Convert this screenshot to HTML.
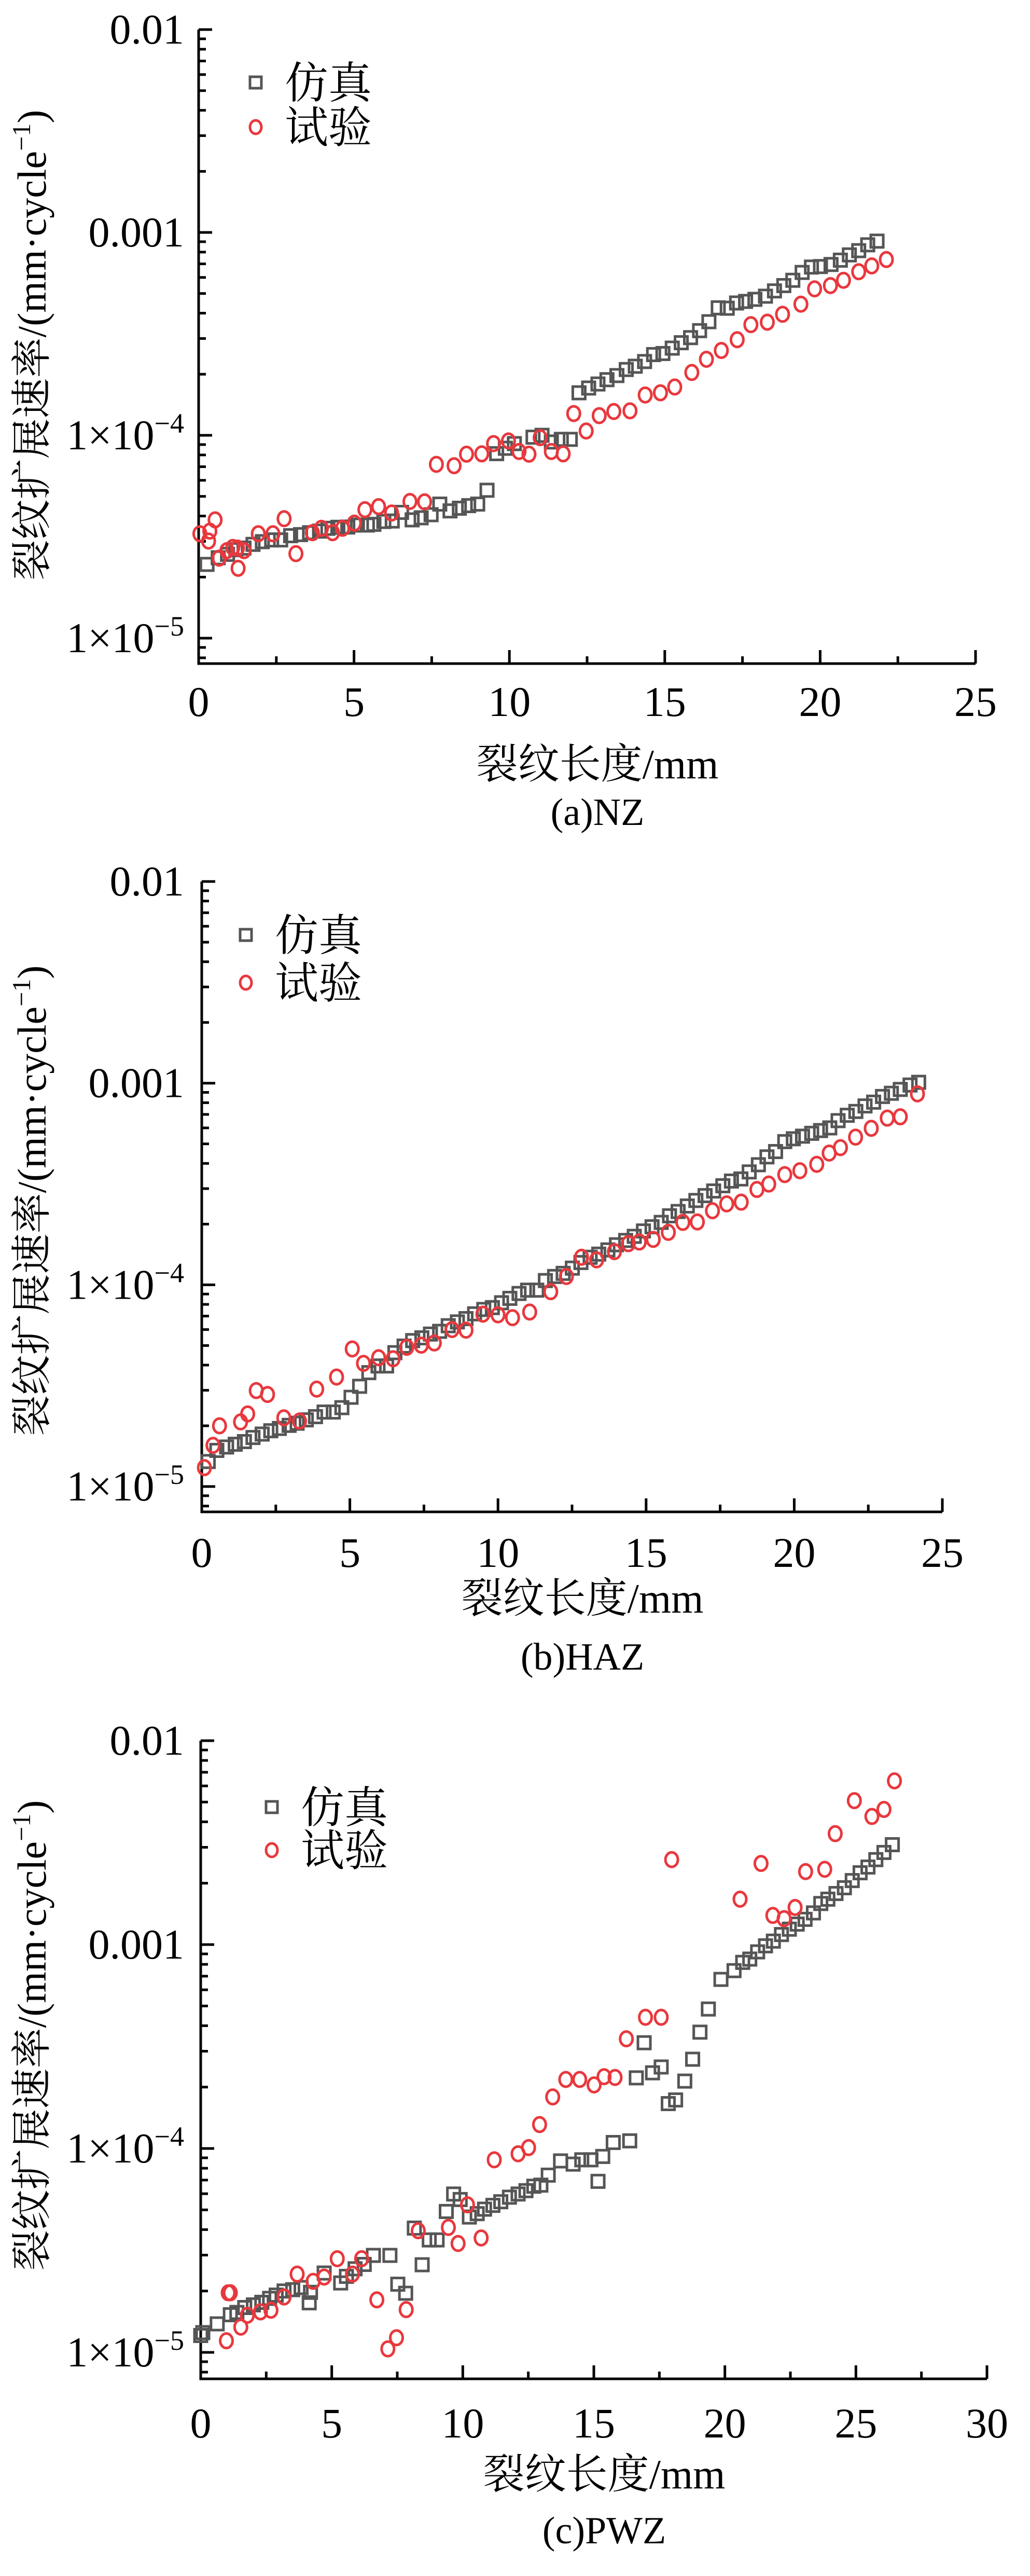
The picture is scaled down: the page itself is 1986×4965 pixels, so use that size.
<!DOCTYPE html>
<html><head><meta charset="utf-8">
<style>
html,body{margin:0;padding:0;background:#fff;}
svg{display:block;}
text{font-family:"Liberation Serif","Noto Serif CJK SC","Noto Sans CJK SC",serif;fill:#000;}
</style></head>
<body>
<svg id="fig" width="1986" height="4965" viewBox="0 0 1986 4965" xmlns="http://www.w3.org/2000/svg"></svg>
<script>
// ---- Panel (a) NZ data ----
const aSimX=[0.27,0.63,0.93,1.20,1.46,1.75,2.05,2.35,2.64,2.96,3.28,3.57,3.89,4.16,4.48,4.80,5.11,5.43,5.64,5.96,6.23,6.53,6.87,7.16,7.48,7.76,8.09,8.39,8.69,8.98,9.28,9.59,9.87,10.16,10.76,11.05,11.35,11.67,11.96,12.24,12.55,12.85,13.14,13.46,13.76,14.05,14.35,14.64,14.94,15.24,15.53,15.83,16.12,16.42,16.72,17.01,17.31,17.60,17.90,18.24,18.53,18.83,19.12,19.42,19.72,20.01,20.35,20.65,20.94,21.24,21.53,21.83];
const aSimY=[2.31e-5,2.49e-5,2.59e-5,2.73e-5,2.78e-5,2.90e-5,2.99e-5,3.05e-5,3.05e-5,3.20e-5,3.24e-5,3.31e-5,3.37e-5,3.48e-5,3.52e-5,3.53e-5,3.61e-5,3.61e-5,3.64e-5,3.76e-5,3.78e-5,4.17e-5,3.83e-5,3.92e-5,4.06e-5,4.58e-5,4.24e-5,4.37e-5,4.50e-5,4.58e-5,5.36e-5,8.12e-5,8.63e-5,9.10e-5,9.79e-5,1.00e-4,9.27e-5,9.55e-5,9.55e-5,1.62e-4,1.71e-4,1.79e-4,1.88e-4,1.97e-4,2.11e-4,2.19e-4,2.31e-4,2.50e-4,2.53e-4,2.69e-4,2.86e-4,3.03e-4,3.28e-4,3.63e-4,4.25e-4,4.23e-4,4.49e-4,4.57e-4,4.68e-4,4.85e-4,5.15e-4,5.47e-4,5.81e-4,6.35e-4,6.75e-4,6.79e-4,6.95e-4,7.30e-4,7.75e-4,8.13e-4,8.69e-4,9.06e-4];
const aExpX=[0.04,0.36,0.32,0.53,0.66,0.91,1.10,1.25,1.27,1.46,1.92,2.39,2.75,3.13,3.66,3.95,4.31,4.63,5.01,5.35,5.79,6.21,6.80,7.27,7.65,8.22,8.62,9.11,9.49,9.97,10.31,10.63,10.99,11.35,11.73,12.07,12.47,12.89,13.36,13.88,14.37,14.86,15.32,15.87,16.34,16.82,17.33,17.77,18.30,18.79,19.38,19.82,20.33,20.75,21.24,21.66,22.13];
const aExpY=[3.27e-5,3.37e-5,3.01e-5,3.83e-5,2.48e-5,2.70e-5,2.80e-5,2.78e-5,2.21e-5,2.70e-5,3.27e-5,3.27e-5,3.88e-5,2.61e-5,3.31e-5,3.48e-5,3.31e-5,3.48e-5,3.69e-5,4.30e-5,4.45e-5,4.14e-5,4.72e-5,4.70e-5,7.19e-5,7.08e-5,8.07e-5,8.10e-5,9.10e-5,9.38e-5,8.32e-5,8.07e-5,9.73e-5,8.32e-5,8.10e-5,1.28e-4,1.05e-4,1.25e-4,1.31e-4,1.32e-4,1.58e-4,1.62e-4,1.73e-4,2.04e-4,2.37e-4,2.62e-4,2.96e-4,3.51e-4,3.61e-4,3.95e-4,4.43e-4,5.27e-4,5.47e-4,5.81e-4,6.40e-4,6.84e-4,7.35e-4];
// ---- Panel (b) HAZ data ----
const bSimX=[0.22,0.51,0.84,1.13,1.44,1.73,2.04,2.33,2.62,2.95,3.22,3.53,3.84,4.13,4.44,4.73,5.04,5.33,5.64,5.95,6.24,6.52,6.83,7.12,7.43,7.72,8.03,8.32,8.63,8.92,9.21,9.52,9.81,10.12,10.40,10.71,11.00,11.31,11.60,11.91,12.20,12.51,12.80,13.11,13.40,13.71,14.00,14.31,14.60,14.91,15.20,15.51,15.79,16.08,16.39,16.68,16.99,17.28,17.59,17.88,18.20,18.48,18.79,19.08,19.37,19.68,19.97,20.28,20.59,20.89,21.20,21.48,21.79,22.08,22.39,22.68,22.98,23.28,23.58,23.91,24.20];
const bSimY=[1.33e-5,1.51e-5,1.57e-5,1.62e-5,1.67e-5,1.75e-5,1.82e-5,1.89e-5,1.94e-5,2.01e-5,2.06e-5,2.14e-5,2.22e-5,2.34e-5,2.34e-5,2.46e-5,2.77e-5,3.14e-5,3.67e-5,3.96e-5,3.96e-5,4.61e-5,4.97e-5,5.29e-5,5.46e-5,5.70e-5,5.88e-5,6.27e-5,6.55e-5,6.80e-5,7.18e-5,7.55e-5,7.71e-5,8.15e-5,8.57e-5,9.06e-5,9.41e-5,9.41e-5,1.05e-4,1.10e-4,1.14e-4,1.21e-4,1.29e-4,1.37e-4,1.42e-4,1.49e-4,1.58e-4,1.66e-4,1.74e-4,1.85e-4,1.94e-4,2.04e-4,2.20e-4,2.31e-4,2.46e-4,2.62e-4,2.77e-4,2.92e-4,3.10e-4,3.27e-4,3.35e-4,3.63e-4,3.94e-4,4.31e-4,4.58e-4,5.13e-4,5.30e-4,5.46e-4,5.64e-4,5.82e-4,6.00e-4,6.52e-4,6.93e-4,7.24e-4,7.71e-4,8.05e-4,8.59e-4,8.91e-4,9.31e-4,9.79e-4,1.01e-3];
const bExpX=[0.09,0.38,0.60,1.31,1.55,1.84,2.22,2.77,3.30,3.88,4.55,5.08,5.46,5.97,6.46,6.92,7.41,7.85,8.45,8.92,9.49,10.0,10.49,11.07,11.78,12.31,12.82,13.33,13.93,14.40,14.77,15.24,15.75,16.24,16.73,17.24,17.72,18.21,18.74,19.14,19.68,20.19,20.76,21.18,21.56,22.07,22.60,23.14,23.58,24.16];
const bExpY=[1.24e-5,1.60e-5,2.00e-5,2.09e-5,2.29e-5,2.99e-5,2.86e-5,2.19e-5,2.11e-5,3.04e-5,3.49e-5,4.81e-5,4.08e-5,4.35e-5,4.30e-5,4.90e-5,5.02e-5,5.15e-5,6.00e-5,5.96e-5,7.15e-5,7.10e-5,6.87e-5,7.33e-5,9.25e-5,1.10e-4,1.37e-4,1.33e-4,1.46e-4,1.60e-4,1.63e-4,1.68e-4,1.82e-4,2.04e-4,2.05e-4,2.33e-4,2.52e-4,2.57e-4,2.97e-4,3.16e-4,3.52e-4,3.68e-4,3.96e-4,4.50e-4,4.79e-4,5.40e-4,5.97e-4,6.71e-4,6.81e-4,8.85e-4];
// ---- Panel (c) PWZ data ----
const cSimX=[0.0,0.08,0.63,1.13,1.38,1.68,2.01,2.33,2.63,2.88,3.18,3.51,3.83,4.14,4.19,4.71,5.34,5.56,5.89,6.24,6.59,7.22,7.52,7.82,8.15,8.45,8.72,9.02,9.37,9.65,9.90,10.25,10.55,10.83,11.15,11.45,11.78,12.11,12.41,12.71,12.98,13.26,13.73,14.21,14.54,14.89,15.16,15.34,15.74,16.37,16.62,16.92,17.24,17.57,17.84,18.12,18.47,18.77,19.05,19.37,19.85,20.35,20.68,20.95,21.25,21.55,21.85,22.16,22.46,22.76,23.06,23.38,23.66,23.93,24.24,24.56,24.86,25.16,25.46,25.76,26.07,26.39];
const cSimY=[1.21e-5,1.25e-5,1.38e-5,1.53e-5,1.57e-5,1.66e-5,1.71e-5,1.76e-5,1.84e-5,1.91e-5,2.00e-5,2.03e-5,2.08e-5,1.75e-5,1.97e-5,2.45e-5,2.19e-5,2.36e-5,2.57e-5,2.70e-5,2.99e-5,2.99e-5,2.16e-5,1.95e-5,4.07e-5,2.69e-5,3.56e-5,3.56e-5,4.91e-5,5.98e-5,5.62e-5,4.61e-5,4.79e-5,5.04e-5,5.26e-5,5.48e-5,5.77e-5,5.98e-5,6.21e-5,6.53e-5,6.61e-5,7.40e-5,8.69e-5,8.38e-5,8.80e-5,8.80e-5,6.90e-5,9.14e-5,1.07e-4,1.09e-4,2.22e-4,3.30e-4,2.35e-4,2.51e-4,1.66e-4,1.73e-4,2.14e-4,2.74e-4,3.72e-4,4.83e-4,6.75e-4,7.45e-4,8.18e-4,8.49e-4,9.21e-4,9.86e-4,1.04e-3,1.12e-3,1.19e-3,1.26e-3,1.33e-3,1.43e-3,1.59e-3,1.67e-3,1.78e-3,1.90e-3,2.06e-3,2.25e-3,2.40e-3,2.61e-3,2.83e-3,3.09e-3];
const cExpX=[0.98,1.05,1.13,1.53,1.78,2.28,2.68,3.18,3.68,4.29,4.71,5.21,5.79,6.14,6.72,7.14,7.47,7.84,8.30,9.45,9.82,10.18,10.70,11.20,12.11,12.51,12.93,13.43,13.93,14.46,15.01,15.39,15.81,16.24,16.97,17.57,17.97,20.58,21.38,21.83,22.26,22.68,23.08,23.81,24.21,24.94,25.61,26.07,26.47];
const cExpY=[1.14e-5,1.96e-5,1.96e-5,1.33e-5,1.52e-5,1.58e-5,1.61e-5,1.87e-5,2.42e-5,2.23e-5,2.34e-5,2.88e-5,2.42e-5,2.88e-5,1.81e-5,1.04e-5,1.18e-5,1.62e-5,3.95e-5,4.10e-5,3.42e-5,5.29e-5,3.64e-5,8.80e-5,9.42e-5,1.01e-4,1.31e-4,1.79e-4,2.18e-4,2.18e-4,2.05e-4,2.25e-4,2.23e-4,3.45e-4,4.40e-4,4.40e-4,2.61e-3,1.67e-3,2.50e-3,1.39e-3,1.34e-3,1.52e-3,2.28e-3,2.34e-3,3.50e-3,5.08e-3,4.25e-3,4.60e-3,6.35e-3];
const xTicksAB=[0,5,10,15,20,25];
const xTicksC=[0,5,10,15,20,25,30];
const yMajor=[0.01,0.001,1e-4,1e-5];
const legendLabels=["仿真","试验"];

const NS="http://www.w3.org/2000/svg";
const svg=document.getElementById('fig');
function mk(tag,attrs,parent){const e=document.createElementNS(NS,tag);for(const k in attrs)e.setAttribute(k,attrs[k]);(parent||svg).appendChild(e);return e;}

const panels=[
 {id:'a',L:383,R:1881,xmax:25,top:57,dec:391,bot:1279,ticks:xTicksAB,tickY:1380,xlabY:1500,titleY:1590,title:'(a)NZ',
  legY1:159,legY2:245,legX:493,ylabC:665,sx:aSimX,sy:aSimY,ex:aExpX,ey:aExpY},
 {id:'b',L:389,R:1817,xmax:25,top:1699,dec:388.7,bot:2914,ticks:xTicksAB,tickY:3020,xlabY:3108,titleY:3218,title:'(b)HAZ',
  legY1:1802,legY2:1894,legX:474,ylabC:2314,sx:bSimX,sy:bSimY,ex:bExpX,ey:bExpY},
 {id:'c',L:387,R:1903,xmax:30,top:3355,dec:393,bot:4585,ticks:xTicksC,tickY:4698,xlabY:4796,titleY:4902,title:'(c)PWZ',
  legY1:3483,legY2:3566,legX:524,ylabC:3923,sx:cSimX,sy:cSimY,ex:cExpX,ey:cExpY}
];

panels.forEach(p=>{
  const g=mk('g',{});
  
  
  const xs=v=>p.L+(v/p.xmax)*(p.R-p.L);
  const ys=v=>p.top+(-2-Math.log10(v))*p.dec;
  const ax=mk('path',{d:`M${p.L},${p.top} L${p.L},${p.bot} L${p.R},${p.bot}`,fill:'none',stroke:'#000','stroke-width':5},g);
  
  
  for(let d=-5;d<=-2;d++){
    for(let m=1;m<=9;m++){
      const v=m*Math.pow(10,d-1);
      if(v>0.01+1e-9)continue;
      const y=ys(v);
      if(y>p.bot-3)continue;
      const len=(m===1)?26:14;
      mk('line',{x1:p.L,x2:p.L+len,y1:y,y2:y,stroke:'#000','stroke-width':5},g);
    }
  }
  mk('line',{x1:p.L,x2:p.L+26,y1:p.top,y2:p.top,stroke:'#000','stroke-width':5},g);
  yMajor.forEach(v=>{
    const y=ys(v)+27;
    const t=mk('text',{x:355,y:y,'text-anchor':'end','font-size':82},g);
    
    
    if(v>=0.001){t.textContent=String(v);}
    else{
      const e=Math.round(Math.log10(v));
      const a=mk('tspan',{},t);a.textContent='1×10';
      const b=mk('tspan',{dy:-32,'font-size':54},t);b.textContent='−'+(-e);
    }
  });
  for(let v=0;v<=p.xmax+1e-9;v+=2.5){
    const x=xs(v);
    const major=Math.abs(v%5)<1e-6;
    if(v===0)continue;
    mk('line',{x1:x,x2:x,y1:p.bot,y2:p.bot-(major?26:14),stroke:'#000','stroke-width':5},g);
  }
  p.ticks.forEach(v=>{
    const t=mk('text',{x:xs(v),y:p.tickY,'text-anchor':'middle','font-size':82},g);
    
    
    t.textContent=String(v);
  });
  const xl=mk('text',{x:(p.L+p.R)/2+20,y:p.xlabY,'text-anchor':'middle','font-size':80},g);
  
  
  xl.textContent='裂纹长度/mm';
  const yl=mk('text',{x:0,y:0,'text-anchor':'middle','font-size':78,transform:`translate(88,${p.ylabC}) rotate(-90)`},g);
  
  
  const y1=mk('tspan',{},yl);y1.textContent='裂纹扩展速率/(mm·cycle';
  const y2=mk('tspan',{dy:-30,'font-size':50},yl);y2.textContent='−1';
  const y3=mk('tspan',{dy:30},yl);y3.textContent=')';
  const tt=mk('text',{x:(p.L+p.R)/2+20,y:p.titleY,'text-anchor':'middle','font-size':74},g);
  
  
  tt.textContent=p.title;
  const gs=mk('g',{},g);
  
  
  p.sx.forEach((v,i)=>{
    const r=mk('rect',{x:xs(v)-12,y:ys(p.sy[i])-12,width:24,height:24,fill:'none',stroke:'#555','stroke-width':5},gs);
    
    
  });
  const ge=mk('g',{},g);
  
  
  p.ex.forEach((v,i)=>{
    const c=mk('ellipse',{cx:xs(v),cy:ys(p.ey[i]),rx:12,ry:14,fill:'none',stroke:'#e8383d','stroke-width':5},ge);
    
    
  });
  const lg=mk('g',{},g);
  
  
  mk('rect',{x:p.legX-11,y:p.legY1-11,width:22,height:22,fill:'none',stroke:'#555','stroke-width':5},lg);
  mk('ellipse',{cx:p.legX,cy:p.legY2,rx:11,ry:13,fill:'none',stroke:'#e8383d','stroke-width':5},lg);
  const l1=mk('text',{x:p.legX+56,y:p.legY1+30,'font-size':84,'font-family':'"Noto Serif CJK SC","Noto Sans CJK SC",serif'},lg);
  
  
  l1.textContent=legendLabels[0];
  const l2=mk('text',{x:p.legX+56,y:p.legY2+30,'font-size':84,'font-family':'"Noto Serif CJK SC","Noto Sans CJK SC",serif'},lg);
  
  
  l2.textContent=legendLabels[1];
});
</script>
</body></html>
